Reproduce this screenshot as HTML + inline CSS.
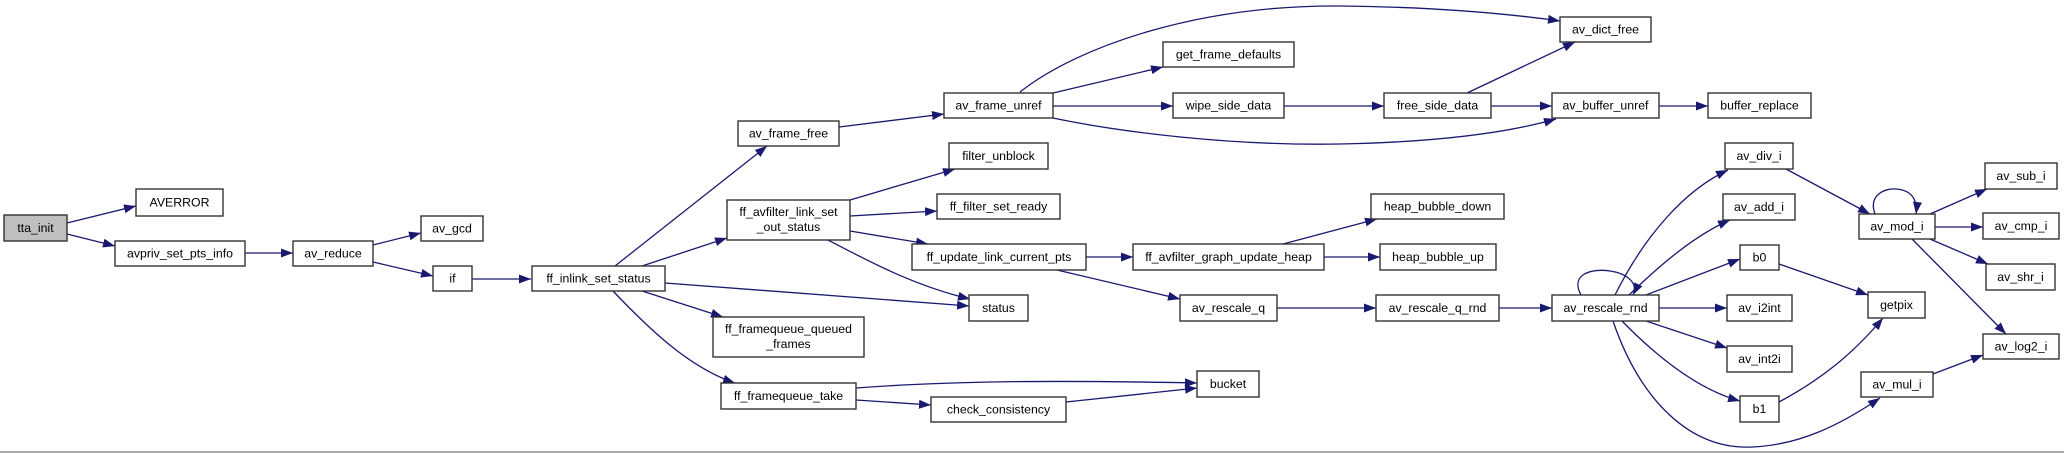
<!DOCTYPE html>
<html><head><meta charset="utf-8"><style>
html,body{margin:0;padding:0;background:#fff;}
svg{display:block;}
text{font-family:"Liberation Sans",Arial,sans-serif;font-size:12.3px;fill:#000;text-anchor:middle;dominant-baseline:central;}
.n{fill:#fff;stroke:#333;stroke-width:1.4;}
.e{fill:none;stroke:#191970;stroke-width:1.3;marker-end:url(#a);}
</style></head><body>
<svg width="2064" height="453" viewBox="0 0 2064 453" xmlns="http://www.w3.org/2000/svg">
<defs><marker id="a" markerUnits="userSpaceOnUse" markerWidth="13" markerHeight="10" refX="12" refY="4.5" orient="auto"><path d="M0,0 L12,4.5 L0,9 z" fill="#191970"/></marker></defs>
<rect x="0" y="451" width="2064" height="2" fill="#aaa"/>
<g>
<path class="e" d="M67,223 L136,206"/>
<path class="e" d="M67,234 L115,246"/>
<path class="e" d="M245,253 L293,253"/>
<path class="e" d="M373,245 L421,233"/>
<path class="e" d="M373,262 L433,276"/>
<path class="e" d="M472,279 L531,279"/>
<path class="e" d="M615,266 L767,146"/>
<path class="e" d="M642,266 L727,238"/>
<path class="e" d="M665,283 L969,306"/>
<path class="e" d="M642,291 L723,317"/>
<path class="e" d="M613,291 C650,330 690,368 735,383"/>
<path class="e" d="M850,200 L955,169"/>
<path class="e" d="M850,216 L937,211"/>
<path class="e" d="M850,231 L928,244"/>
<path class="e" d="M828,240 C870,262 915,286 970,299"/>
<path class="e" d="M839,127 L944,114"/>
<path class="e" d="M1053,93 L1163,67"/>
<path class="e" d="M1053,106 L1173,106"/>
<path class="e" d="M1284,106 L1384,106"/>
<path class="e" d="M1020,92 C1080,45 1200,5 1340,6 C1440,7 1510,14 1560,21"/>
<path class="e" d="M1053,118 C1120,132 1230,146 1340,144 C1440,142 1510,132 1556,119"/>
<path class="e" d="M1467,93 L1575,42"/>
<path class="e" d="M1491,106 L1552,106"/>
<path class="e" d="M1659,106 L1708,106"/>
<path class="e" d="M1086,257 L1133,257"/>
<path class="e" d="M1057,270 L1180,299"/>
<path class="e" d="M1283,244 L1377,219"/>
<path class="e" d="M1324,257 L1380,257"/>
<path class="e" d="M1277,308 L1376,308"/>
<path class="e" d="M1499,308 L1552,308"/>
<path class="e" d="M856,388 C950,381 1050,380 1197,383"/>
<path class="e" d="M856,400 L931,405"/>
<path class="e" d="M1066,402 L1197,388"/>
<path class="e" d="M1581,295 C1570,275 1590,268 1610,271 C1630,274 1638,285 1633,295"/>
<path class="e" d="M1615,295 C1645,235 1685,190 1728,170"/>
<path class="e" d="M1629,295 C1660,265 1695,235 1730,220"/>
<path class="e" d="M1646,295 L1740,259"/>
<path class="e" d="M1659,308 L1727,308"/>
<path class="e" d="M1646,321 L1727,348"/>
<path class="e" d="M1622,321 C1660,360 1700,390 1740,401"/>
<path class="e" d="M1613,321 C1640,400 1690,450 1752,447 C1800,445 1840,425 1880,398"/>
<path class="e" d="M1786,169 L1870,214"/>
<path class="e" d="M1875,214 C1868,195 1885,188 1896,189 C1910,190 1918,198 1916,214"/>
<path class="e" d="M1930,214 L1987,189"/>
<path class="e" d="M1935,227 L1983,227"/>
<path class="e" d="M1930,239 L1988,264"/>
<path class="e" d="M1912,239 L2006,334"/>
<path class="e" d="M1779,264 L1868,295"/>
<path class="e" d="M1779,402 C1820,380 1852,355 1883,318"/>
<path class="e" d="M1933,374 L1983,355"/>
</g>
<g>
<rect x="4" y="215" width="63" height="26" style="fill:#bfbfbf;stroke:#333;stroke-width:1.4"/><text x="35.5" y="228">tta_init</text>
<rect class="n" x="136" y="189" width="87" height="27"/><text x="179.5" y="202.5">AVERROR</text>
<rect class="n" x="115" y="241" width="130" height="25"/><text x="180" y="253.5">avpriv_set_pts_info</text>
<rect class="n" x="293" y="241" width="80" height="25"/><text x="333" y="253.5">av_reduce</text>
<rect class="n" x="421" y="216" width="62" height="25"/><text x="452" y="228.5">av_gcd</text>
<rect class="n" x="433" y="266" width="39" height="25"/><text x="452.5" y="278.5">if</text>
<rect class="n" x="532" y="266" width="133" height="25"/><text x="598.5" y="278.5">ff_inlink_set_status</text>
<rect class="n" x="738" y="121" width="101" height="25"/><text x="788.5" y="133.5">av_frame_free</text>
<rect class="n" x="727" y="200" width="123" height="40"/><text x="788.5" y="212">ff_avfilter_link_set</text><text x="788.5" y="227">_out_status</text>
<rect class="n" x="713" y="317" width="151" height="40"/><text x="788.5" y="329">ff_framequeue_queued</text><text x="788.5" y="344">_frames</text>
<rect class="n" x="721" y="383" width="135" height="26"/><text x="788.5" y="396">ff_framequeue_take</text>
<rect class="n" x="944" y="93" width="109" height="25"/><text x="998.5" y="105.5">av_frame_unref</text>
<rect class="n" x="949" y="143" width="99" height="26"/><text x="998.5" y="156">filter_unblock</text>
<rect class="n" x="937" y="194" width="123" height="25"/><text x="998.5" y="206.5">ff_filter_set_ready</text>
<rect class="n" x="912" y="244" width="174" height="26"/><text x="999" y="257">ff_update_link_current_pts</text>
<rect class="n" x="969" y="295" width="59" height="26"/><text x="998.5" y="308">status</text>
<rect class="n" x="931" y="397" width="135" height="25"/><text x="998.5" y="409.5">check_consistency</text>
<rect class="n" x="1163" y="42" width="131" height="25"/><text x="1228.5" y="54.5">get_frame_defaults</text>
<rect class="n" x="1173" y="93" width="111" height="25"/><text x="1228.5" y="105.5">wipe_side_data</text>
<rect class="n" x="1133" y="244" width="191" height="26"/><text x="1228.5" y="257">ff_avfilter_graph_update_heap</text>
<rect class="n" x="1180" y="295" width="97" height="26"/><text x="1228.5" y="308">av_rescale_q</text>
<rect class="n" x="1197" y="371" width="62" height="26"/><text x="1228" y="384">bucket</text>
<rect class="n" x="1384" y="93" width="107" height="25"/><text x="1437.5" y="105.5">free_side_data</text>
<rect class="n" x="1371" y="194" width="133" height="25"/><text x="1437.5" y="206.5">heap_bubble_down</text>
<rect class="n" x="1380" y="244" width="116" height="26"/><text x="1438" y="257">heap_bubble_up</text>
<rect class="n" x="1376" y="295" width="123" height="26"/><text x="1437.5" y="308">av_rescale_q_rnd</text>
<rect class="n" x="1560" y="17" width="91" height="25"/><text x="1605.5" y="29.5">av_dict_free</text>
<rect class="n" x="1552" y="93" width="107" height="25"/><text x="1605.5" y="105.5">av_buffer_unref</text>
<rect class="n" x="1552" y="295" width="107" height="26"/><text x="1605.5" y="308">av_rescale_rnd</text>
<rect class="n" x="1708" y="93" width="103" height="25"/><text x="1759.5" y="105.5">buffer_replace</text>
<rect class="n" x="1725" y="143" width="68" height="26"/><text x="1759" y="156">av_div_i</text>
<rect class="n" x="1723" y="194" width="72" height="26"/><text x="1759" y="207">av_add_i</text>
<rect class="n" x="1740" y="245" width="39" height="25"/><text x="1759.5" y="257.5">b0</text>
<rect class="n" x="1727" y="295" width="65" height="26"/><text x="1759.5" y="308">av_i2int</text>
<rect class="n" x="1727" y="346" width="65" height="26"/><text x="1759.5" y="359">av_int2i</text>
<rect class="n" x="1740" y="396" width="39" height="26"/><text x="1759.5" y="409">b1</text>
<rect class="n" x="1859" y="214" width="76" height="25"/><text x="1897" y="226.5">av_mod_i</text>
<rect class="n" x="1868" y="292" width="57" height="26"/><text x="1896.5" y="305">getpix</text>
<rect class="n" x="1861" y="372" width="72" height="25"/><text x="1897" y="384.5">av_mul_i</text>
<rect class="n" x="1985" y="163" width="72" height="26"/><text x="2021" y="176">av_sub_i</text>
<rect class="n" x="1983" y="213" width="76" height="26"/><text x="2021" y="226">av_cmp_i</text>
<rect class="n" x="1986" y="264" width="69" height="26"/><text x="2020.5" y="277">av_shr_i</text>
<rect class="n" x="1983" y="334" width="76" height="25"/><text x="2021" y="346.5">av_log2_i</text>
</g>
</svg>
</body></html>
